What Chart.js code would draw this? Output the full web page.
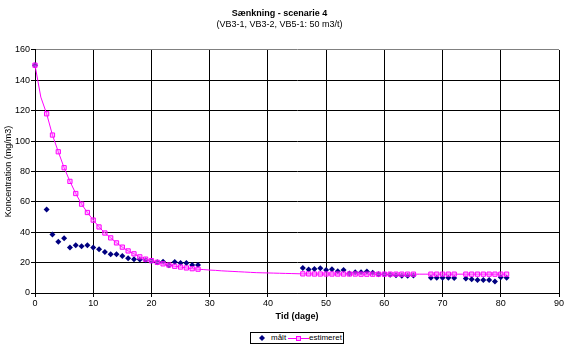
<!DOCTYPE html>
<html>
<head>
<meta charset="utf-8">
<script src="https://cdn.jsdelivr.net/npm/chart.js@4/dist/chart.umd.min.js"></script>
<style>
html,body{margin:0;padding:0;background:#fff;}
#wrap{position:relative;width:569px;height:348px;}
canvas{display:block;}
#legend{position:absolute;left:250px;top:332px;width:92px;height:10px;border:1px solid #000;background:#fff;
  font:8px "Liberation Sans",Arial,sans-serif;color:#000;white-space:nowrap;}
#legend svg{position:absolute;top:0;display:block;}
#legend span{position:absolute;top:0;line-height:10px;}
</style>
</head>
<body>
<div id="wrap">
<canvas id="c" width="569" height="348"></canvas>
<div id="legend">
  <svg width="10" height="10" style="left:6px"><polygon points="5,2 8,5 5,8 2,5" fill="#000080"/></svg>
  <span style="left:20px">målt</span>
  <svg width="21" height="10" style="left:37px"><line x1="0" y1="5.5" x2="21" y2="5.5" stroke="#FF00FF" stroke-width="1"/><rect x="8.5" y="3.5" width="4" height="4" fill="#ffb3ff" stroke="#FF00FF" stroke-width="1"/></svg>
  <span style="left:58px">estimeret</span>
</div>
</div>
<script>
// ---- data ----
const titleText = 'Sænkning - scenarie 4';
const subtitleText = '(VB3-1, VB3-2, VB5-1: 50 m3/t)';
const xTitle = 'Tid (dage)';
const yTitle = 'Koncentration (mg/m3)';
const seriesNames = ['målt', 'estimeret'];

const xTicks = [0, 10, 20, 30, 40, 50, 60, 70, 80, 90];
const yTicks = [0, 20, 40, 60, 80, 100, 120, 140, 160];

// measured (målt)
const maltDays = [0, 2, 3, 4, 5, 6, 7, 8, 9, 10, 11, 12, 13, 14, 15, 16, 17, 18, 19, 20,
  21, 22, 23, 24, 25, 26, 27, 28,
  46, 47, 48, 49, 50, 51, 52, 53, 54, 55, 56, 57, 58, 59, 60, 61, 62, 63, 64, 65,
  68, 69, 70, 71, 72,
  74, 75, 76, 77, 78, 79, 80, 81];
const maltValues = [150, 55, 38.5, 33.7, 36, 30, 31.5, 30.8, 31.5, 30, 28.8, 27, 25.5, 25.5, 24.4, 22.9, 22.2, 22, 21.6, 21.1,
  20.3, 20.5, 18.3, 20.4, 19.8, 19.8, 18.5, 18.5,
  16.5, 15.4, 15.8, 16.3, 15.2, 15.6, 14.3, 15.2, 12.8, 13.7, 13.7, 14.1, 13.3, 12.4, 12.4, 12.0, 11.7, 11.3, 11.3, 11.5,
  10.1, 10.1, 10.1, 10.1, 9.9,
  9.5, 9.0, 8.5, 8.5, 8.5, 7.6, 10.4, 10.0];

// estimated (estimeret)
const estDays = [0, 1, 2, 3, 4, 5, 6, 7, 8, 9, 10, 11, 12, 13, 14, 15, 16, 17, 18, 19, 20,
  21, 22, 23, 24, 25, 26, 27, 28, 29, 30, 31, 32, 33, 34, 35, 36, 37, 38, 39, 40,
  41, 42, 43, 44, 45, 46, 47, 48, 49, 50, 51, 52, 53, 54, 55, 56, 57, 58, 59, 60,
  61, 62, 63, 64, 65, 66, 67, 68, 69, 70, 71, 72, 73, 74, 75, 76, 77, 78, 79, 80, 81];
const estValues = [150, 129, 118, 104, 93, 82.5, 73.5, 65.5, 58.5, 53, 48, 43.5, 39.5, 36.3, 33, 30.2, 27.7, 25.8, 23.8, 22.3, 21.3,
  20.2, 19.2, 18.4, 17.6, 17.1, 16.5, 16.0, 15.7, 15.4, 15.1, 14.9, 14.6, 14.4, 14.2, 14.0, 13.8, 13.6, 13.4, 13.3, 13.2,
  13.1, 13.0, 12.9, 12.8, 12.7, 12.6, 12.6, 12.5, 12.5, 12.5, 12.5, 12.5, 12.5, 12.5, 12.5, 12.4, 12.4, 12.4, 12.4, 12.4,
  12.4, 12.4, 12.4, 12.4, 12.4, 12.4, 12.4, 12.4, 12.4, 12.4, 12.4, 12.4, 12.4, 12.4, 12.4, 12.4, 12.4, 12.4, 12.4, 12.4, 12.4];

// ---- chart ----
const FONT = '"Liberation Sans", Arial, sans-serif';
const maltSet = new Set(maltDays);

new Chart(document.getElementById('c'), {
  type: 'scatter',
  data: {
    datasets: [
      {
        label: seriesNames[0],
        data: maltDays.map((d, i) => ({ x: d, y: maltValues[i] })),
        showLine: false,
        clip: false,
        pointStyle: 'rectRot',
        pointRadius: 3,
        pointBackgroundColor: '#000080',
        pointBorderColor: '#000080',
        pointBorderWidth: 0,
        order: 1
      },
      {
        label: seriesNames[1],
        data: estDays.map((d, i) => ({ x: d, y: estValues[i] })),
        showLine: true,
        clip: false,
        borderColor: '#FF00FF',
        borderWidth: 1,
        tension: 0,
        pointStyle: 'rect',
        pointRadius: ctx => (ctx.raw && maltSet.has(ctx.raw.x)) ? 3 : 0,
        pointBackgroundColor: 'rgba(255,128,255,0.45)',
        pointBorderColor: '#FF00FF',
        pointBorderWidth: 1,
        order: 0
      }
    ]
  },
  options: {
    responsive: false,
    animation: false,
    events: [],
    layout: { padding: { left: 0, right: 10, top: 0, bottom: 22 } },
    plugins: {
      legend: { display: false },
      tooltip: { enabled: false },
      title: {
        display: true, text: titleText, color: '#000',
        font: { family: FONT, size: 9, weight: 'bold' },
        padding: { top: 8, bottom: 0 }
      },
      subtitle: {
        display: true, text: subtitleText, color: '#000',
        font: { family: FONT, size: 9 },
        padding: { top: 0, bottom: 20.4 }
      }
    },
    scales: {
      x: {
        type: 'linear', min: 0, max: 90,
        afterBuildTicks: s => { s.ticks = xTicks.map(v => ({ value: v })); },
        afterFit: s => { s.height = 33; },
        ticks: { color: '#000', font: { family: FONT, size: 9 }, padding: 1, maxRotation: 0, autoSkip: false },
        grid: { color: '#000', lineWidth: 1, tickLength: 4, tickColor: '#000' },
        border: { color: '#000', width: 1 },
        title: { display: true, text: xTitle, color: '#000', font: { family: FONT, size: 9, weight: 'bold' }, padding: { top: 0, bottom: 4 } }
      },
      y: {
        type: 'linear', min: 0, max: 160,
        afterBuildTicks: s => { s.ticks = yTicks.map(v => ({ value: v })); },
        afterFit: s => { s.width = 35; },
        ticks: { color: '#000', font: { family: FONT, size: 9 }, padding: 1, autoSkip: false },
        grid: {
          color: ctx => (ctx.tick && ctx.tick.value === 160) ? '#808080' : '#000',
          lineWidth: 1, tickLength: 4, tickColor: '#000'
        },
        border: { color: '#000', width: 1 },
        title: { display: true, text: yTitle, color: '#000', font: { family: FONT, size: 9 }, padding: { top: 3, bottom: 0 } }
      }
    }
  }
});
</script>
</body>
</html>
